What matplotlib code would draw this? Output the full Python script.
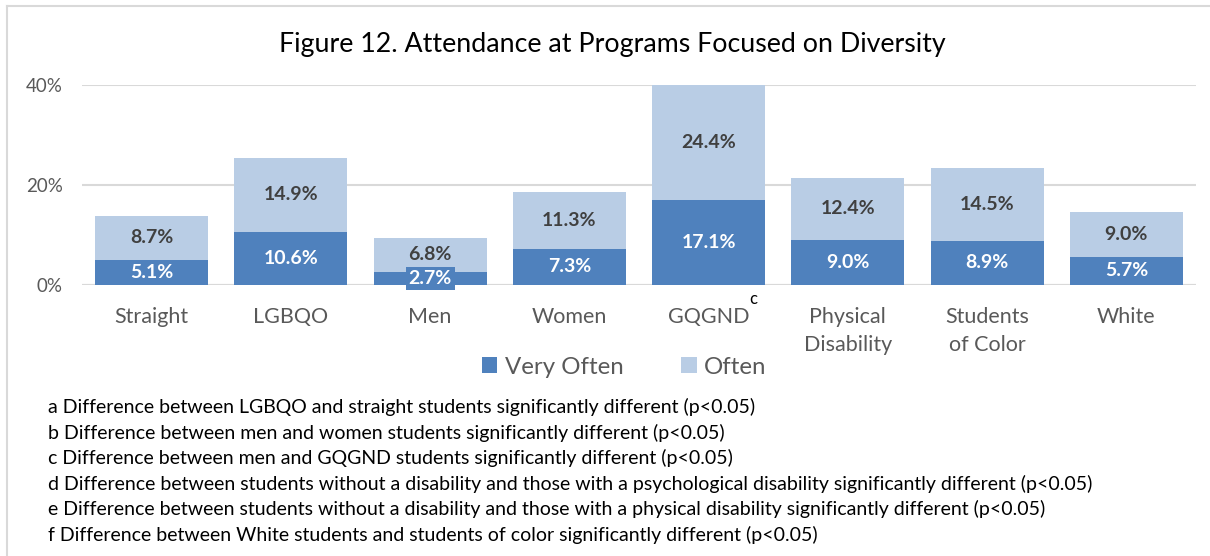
import numpy as np
import matplotlib
matplotlib.use("Agg")
import matplotlib.pyplot as plt

plt.rcParams['font.family'] = ['Lato', 'DejaVu Sans']

# data
groups = ["Straight", "LGBQO", "Men", "Women", "GQGND", "Physical\nDisability",
          "Students\nof Color", "White"]
very_often = [5.1, 10.6, 2.7, 7.3, 17.1, 9.0, 8.9, 5.7]
often = [8.7, 14.9, 6.8, 11.3, 24.4, 12.4, 14.5, 9.0]
yticks = [0, 20, 40]
footnotes = [
    "a Difference between LGBQO and straight students significantly different (p<0.05)",
    "b Difference between men and women students significantly different (p<0.05)",
    "c Difference between men and GQGND students significantly different (p<0.05)",
    "d Difference between students without a disability and those with a psychological disability significantly different (p<0.05)",
    "e Difference between students without a disability and those with a physical disability significantly different (p<0.05)",
    "f Difference between White students and students of color significantly different (p<0.05)",
]

dark = "#4F81BD"
light = "#B9CDE5"
grey = "#595959"

W, H = 1210, 556
fig = plt.figure(figsize=(W / 100, H / 100), dpi=100)
ax = fig.add_axes([82 / W, 1 - 285 / H, (1196 - 82) / W, 200 / H])

x = np.arange(len(groups))
ax.bar(x, very_often, width=0.81, color=dark, label="Very Often", zorder=2)
ax.bar(x, often, width=0.81, bottom=very_often, color=light, label="Often", zorder=2)

ax.set_ylim(0, 40)
ax.set_xlim(-0.5, len(groups) - 0.5)
ax.set_yticks(yticks)
ax.set_yticklabels([f"{t}%" for t in yticks], color=grey, fontsize=13.5)
ax.yaxis.grid(True, color="#D9D9D9", linewidth=1.5, zorder=0)
ax.tick_params(length=0)
ax.tick_params(axis="y", pad=14)
ax.set_xticks(x)
ax.set_xticklabels(groups, color=grey, fontsize=15.5, linespacing=1.5, va="top")
ax.tick_params(axis="x", pad=16)
for s in ax.spines.values():
    s.set_visible(False)
ax.axhline(0, color="#D9D9D9", linewidth=1.5, zorder=1)

for i, (v, o) in enumerate(zip(very_often, often)):
    top = min(v + o, 40)
    kw = {}
    if groups[i] == "Men":
        kw = dict(bbox=dict(facecolor=dark, edgecolor="none", boxstyle="square,pad=0.15"))
    ax.text(i, v / 2, f"{v:.1f}%", ha="center", va="center", color="white",
            fontsize=14, fontweight="bold", zorder=3, **kw)
    ax.text(i, v + (top - v) / 2, f"{o:.1f}%", ha="center", va="center",
            color="#404040", fontsize=14, fontweight="bold", zorder=3)

# superscript on GQGND
fig.text(753 / W, 1 - 299 / H, "c", fontsize=12, color="black", ha="center", va="center")

fig.text(612 / W, 1 - 45 / H, "Figure 12. Attendance at Programs Focused on Diversity",
         ha="center", va="center", fontsize=19.3, color="black")

fig.legend(loc="center", bbox_to_anchor=(624 / W, 1 - 367 / H), ncol=2, frameon=False,
           fontsize=17.3, labelcolor=grey, handlelength=0.65, handleheight=0.65,
           columnspacing=2.4, handletextpad=0.3)

for k, line in enumerate(footnotes):
    fig.text(48 / W, 1 - (407 + 25.5 * k) / H, line, ha="left", va="center",
             fontsize=14, color="black")

# outer border (top and left)
fig.add_artist(plt.Line2D([7 / W, 7 / W], [0, 1 - 6 / H], color="#D9D9D9", linewidth=1.5))
fig.add_artist(plt.Line2D([7 / W, 1], [1 - 6 / H, 1 - 6 / H], color="#D9D9D9", linewidth=1.5))

fig.savefig("out.png", dpi=100)
